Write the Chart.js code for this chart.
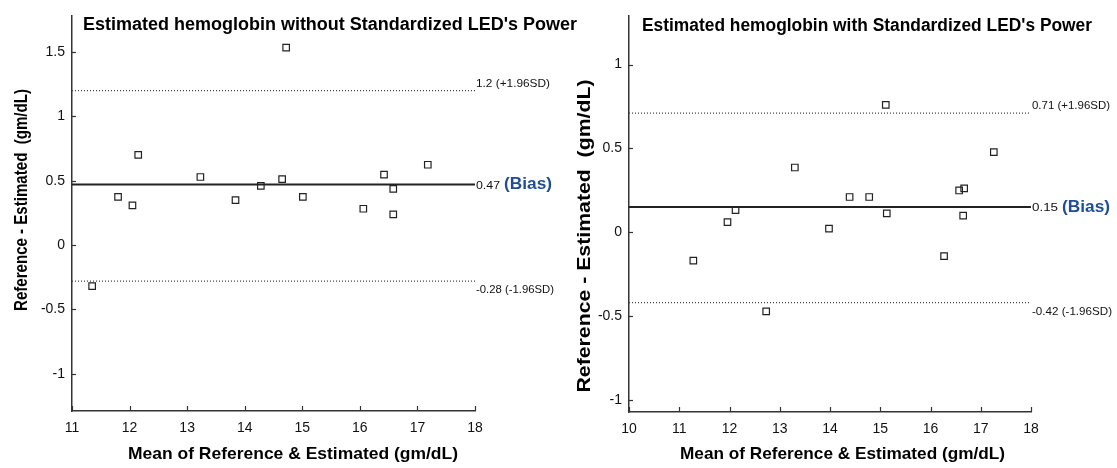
<!DOCTYPE html>
<html>
<head>
<meta charset="utf-8">
<script src="https://cdn.jsdelivr.net/npm/chart.js@4.4.1/dist/chart.umd.min.js"></script>
<style>
  html, body { margin: 0; padding: 0; background: #fff; }
  body { width: 1117px; height: 468px; position: relative; overflow: hidden; }
  canvas { position: absolute; top: 0; }
  #left { left: 0; }
  #right { left: 560px; }
</style>
</head>
<body>
<canvas id="left" width="600" height="468"></canvas>
<canvas id="right" width="557" height="468"></canvas>
<script>
// left panel: without standardized LED power
const leftMeans = [11.35, 11.80, 12.05, 12.15, 13.23, 13.84, 14.28, 14.65, 14.72, 15.01, 16.06, 16.42, 16.58, 16.58, 17.18];
const leftDiffs = [-0.32, 0.375, 0.308, 0.701, 0.529, 0.349, 0.46, 0.513, 1.534, 0.375, 0.282, 0.547, 0.436, 0.238, 0.624];
const leftLimits = [1.2, 0.47, -0.28];          // +1.96SD, bias, -1.96SD
const leftLimitText = ["1.2", "0.47", "-0.28"];
const leftXTicks = [11, 12, 13, 14, 15, 16, 17, 18];
const leftYTicks = [-1, -0.5, 0, 0.5, 1, 1.5];

// right panel: with standardized LED power
const rightMeans = [11.28, 11.96, 12.12, 12.73, 13.30, 13.98, 14.39, 14.78, 15.11, 15.13, 16.27, 16.57, 16.65, 16.67, 17.26];
const rightDiffs = [-0.169, 0.06, 0.132, -0.472, 0.386, 0.021, 0.21, 0.21, 0.76, 0.113, -0.142, 0.249, 0.099, 0.261, 0.478];
const rightLimits = [0.71, 0.15, -0.42];
const rightLimitText = ["0.71", "0.15", "-0.42"];
const rightXTicks = [10, 11, 12, 13, 14, 15, 16, 17, 18];
const rightYTicks = [-1, -0.5, 0, 0.5, 1];

const FONT = "'Liberation Sans', Arial, sans-serif";
const INK = "#111";

// text squeezed/stretched to a given width
function fitText(ctx, text, x, y, width) {
  const w = ctx.measureText(text).width;
  ctx.save();
  ctx.translate(x, y);
  ctx.scale(width / w, 1);
  ctx.fillText(text, 0, 0);
  ctx.restore();
}

const extras = {
  id: "extras",
  afterDraw(chart, args, o) {
    const { ctx, chartArea: a, scales: { x, y } } = chart;
    ctx.save();

    // inward tick marks
    ctx.strokeStyle = "#333";
    ctx.lineWidth = 1.2;
    x.ticks.forEach(t => {
      const px = Math.round(x.getPixelForValue(t.value)) + 0.5;
      ctx.beginPath(); ctx.moveTo(px, a.bottom); ctx.lineTo(px, a.bottom - 5); ctx.stroke();
    });
    y.ticks.forEach(t => {
      const py = Math.round(y.getPixelForValue(t.value)) + 0.5;
      ctx.beginPath(); ctx.moveTo(a.left, py); ctx.lineTo(a.left + 4, py); ctx.stroke();
    });

    // limit labels at right end of lines
    ctx.fillStyle = INK;
    ctx.textBaseline = "middle";
    ctx.textAlign = "left";
    const lx = a.right + 1;
    const upY = y.getPixelForValue(o.limits[0]) - 7;
    const biasY = y.getPixelForValue(o.limits[1]);
    const loY = y.getPixelForValue(o.limits[2]) + 9;
    ctx.font = "11.5px " + FONT;
    fitText(ctx, o.limitText[0] + " (+1.96SD)", lx, upY, o.sdW[0]);
    fitText(ctx, o.limitText[2] + " (-1.96SD)", lx, loY, o.sdW[1]);
    ctx.font = "11px " + FONT;
    fitText(ctx, o.limitText[1], lx, biasY + 1, o.biasNumW);
    ctx.fillStyle = "#1f4e96";
    ctx.font = "bold 17px " + FONT;
    fitText(ctx, "(Bias)", lx + o.biasNumW + 4, biasY, 48);

    // titles
    ctx.fillStyle = "#000";
    ctx.textBaseline = "alphabetic";
    ctx.font = "bold 18px " + FONT;
    fitText(ctx, o.title, o.titleX, o.titleY, o.titleW);
    ctx.font = "bold 17px " + FONT;
    fitText(ctx, "Mean of Reference & Estimated (gm/dL)", o.xTitleX, 459, o.xTitleW);

    ctx.save();
    ctx.translate(o.yTitleX, o.yTitleY);
    ctx.rotate(-Math.PI / 2);
    ctx.textAlign = "left";
    ctx.textBaseline = "middle";
    ctx.font = "bold 19px " + FONT;
    fitText(ctx, "Reference - Estimated  (gm/dL)", -o.yTitleW / 2, 0, o.yTitleW);
    ctx.restore();

    ctx.restore();
  }
};

function makePanel(id, means, diffs, limits, xTicks, yTicks, yMin, yMax, pad, axW, axH, opts) {
  const points = means.map((m, i) => ({ x: m, y: diffs[i] }));
  const xMin = xTicks[0], xMax = xTicks[xTicks.length - 1];
  const lineSet = (v, dash, width, color) => ({
    type: "line",
    data: [{ x: xMin, y: v }, { x: xMax, y: v }],
    borderColor: color,
    borderWidth: width,
    borderDash: dash,
    pointRadius: 0,
    fill: false
  });
  return new Chart(document.getElementById(id), {
    type: "scatter",
    data: {
      datasets: [
        lineSet(limits[0], [1, 2], 1.3, "#444"),
        lineSet(limits[1], [], 2, "#222"),
        lineSet(limits[2], [1, 2], 1.3, "#444"),
        {
          data: points,
          pointStyle: "rect",
          pointRadius: 4.6,
          pointHoverRadius: 4.6,
          borderColor: "#222",
          backgroundColor: "rgba(255,255,255,0)",
          borderWidth: 1.2
        }
      ]
    },
    options: {
      responsive: false,
      animation: false,
      events: [],
      layout: { padding: pad },
      plugins: { legend: { display: false }, tooltip: { enabled: false }, extras: opts },
      scales: {
        x: {
          type: "linear",
          min: xMin,
          max: xMax,
          afterBuildTicks: s => { s.ticks = xTicks.map(v => ({ value: v })); },
          afterFit: s => { s.height = axH; },
          grid: { display: false, drawTicks: false },
          border: { display: true, color: "#333", width: 1.5 },
          ticks: { color: INK, font: { family: FONT, size: 14 }, padding: 9, callback: v => String(v) }
        },
        y: {
          min: yMin,
          max: yMax,
          afterBuildTicks: s => { s.ticks = yTicks.map(v => ({ value: v })); },
          afterFit: s => { s.width = axW; },
          grid: { display: false, drawTicks: false },
          border: { display: true, color: "#333", width: 1.5 },
          ticks: { color: INK, font: { family: FONT, size: 14 }, padding: 7, callback: v => String(v) }
        }
      }
    },
    plugins: [extras]
  });
}

makePanel("left", leftMeans, leftDiffs, leftLimits, leftXTicks, leftYTicks, -1.29, 1.785,
  { left: 0, top: 12, right: 125, bottom: 0 }, 72, 57, {
    limits: leftLimits, limitText: leftLimitText,
    title: "Estimated hemoglobin without Standardized LED's Power",
    titleX: 83, titleY: 30, titleW: 494,
    xTitleX: 128, xTitleW: 330,
    yTitleX: 22, yTitleY: 200, yTitleW: 222,
    sdW: [74, 78], biasNumW: 24
  });

makePanel("right", rightMeans, rightDiffs, rightLimits, rightXTicks, rightYTicks, -1.072, 1.293,
  { left: 0, top: 9, right: 86, bottom: 0 }, 69, 56, {
    limits: rightLimits, limitText: rightLimitText,
    title: "Estimated hemoglobin with Standardized LED's Power",
    titleX: 82, titleY: 31, titleW: 450,
    xTitleX: 120, xTitleW: 325,
    yTitleX: 25, yTitleY: 236, yTitleW: 313,
    sdW: [78, 80], biasNumW: 26
  });
</script>
</body>
</html>
